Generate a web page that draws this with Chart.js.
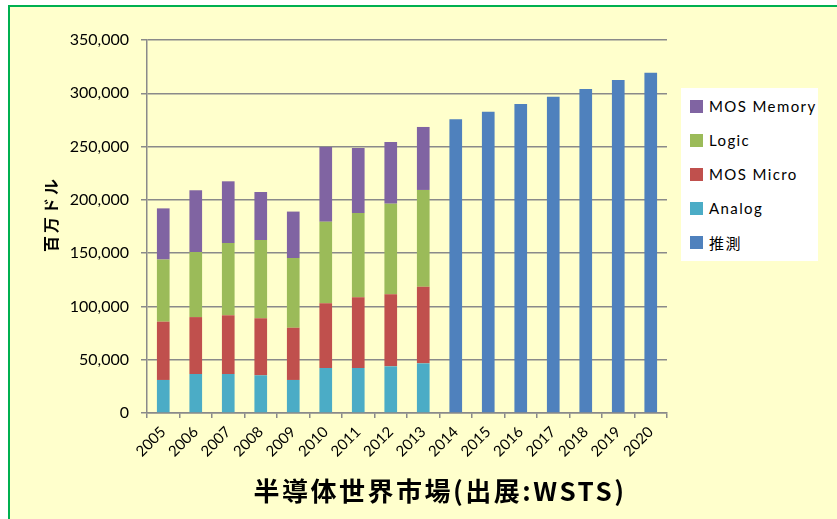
<!DOCTYPE html>
<html>
<head>
<meta charset="utf-8">
<script src="https://cdn.jsdelivr.net/npm/chart.js@4/dist/chart.umd.min.js"></script>
<style>
  body { margin: 0; background: #fff; width: 837px; height: 519px; overflow: hidden; position: relative; font-family: Lato, "Noto Sans CJK JP", sans-serif; }
  #marco { position: absolute; left: 8px; top: 5px; width: 829px; height: 514px; border-left: 2px solid #00b050; border-top: 2px solid #00b050; background: #ffffcc; }
  #grafico { position: absolute; left: 0; top: 0; }
  #leyenda { position: absolute; left: 681px; top: 88px; width: 137px; height: 173px; background: #fff; }
  .item { position: absolute; left: 9px; height: 20px; display: flex; align-items: center; font-size: 15px; letter-spacing: 1.4px; color: #000; }
  .item span.caja { width: 13px; height: 13px; margin-right: 6px; display: inline-block; }
  #tituloY { position: absolute; left: 50px; top: 214px; transform: translate(-50%, -50%) rotate(-90deg); font: bold 16px "Noto Sans CJK JP"; letter-spacing: 3px; white-space: nowrap; }
  #tituloX { position: absolute; left: 440px; top: 489px; transform: translate(-50%, -50%); font: bold 26px "Noto Sans CJK JP"; letter-spacing: 2.5px; white-space: nowrap; }
</style>
</head>
<body>
<div id="marco"></div>
<canvas id="grafico" width="837" height="519"></canvas>
<div id="leyenda"></div>
<div id="tituloY">百万ドル</div>
<div id="tituloX">半導体世界市場(出展:WSTS)</div>
<script>
// ===== Datos (百万ドル) =====
const anios = ['2005','2006','2007','2008','2009','2010','2011','2012','2013','2014','2015','2016','2017','2018','2019','2020'];
const analog    = [31000, 36600, 36600, 35400, 31000, 42200, 42200, 43800, 46600, null, null, null, null, null, null, null];
const mosMicro  = [54700, 53400, 55100, 53500, 49000, 60800, 66400, 67600, 71900, null, null, null, null, null, null, null];
const logic     = [58300, 61000, 67800, 73400, 65400, 76500, 79100, 85000, 90800, null, null, null, null, null, null, null];
const mosMemory = [48000, 58000, 57900, 45100, 43600, 70100, 61000, 57900, 59100, null, null, null, null, null, null, null];
const suisoku   = [null, null, null, null, null, null, null, null, null, 275600, 282700, 290000, 296800, 304000, 312500, 319300];
const ticksY = [0, 50000, 100000, 150000, 200000, 250000, 300000, 350000];

const gris = '#8a8a8a';

// orden de la leyenda: de arriba abajo
const series = [
  { label: 'MOS Memory', data: mosMemory, color: '#8064a2' },
  { label: 'Logic',      data: logic,     color: '#9bbb59' },
  { label: 'MOS Micro',  data: mosMicro,  color: '#c0504d' },
  { label: 'Analog',     data: analog,    color: '#4bacc6' },
  { label: '推測',       data: suisoku,   color: '#4f81bd' }
];

// apilado desde abajo: Analog, MOS Micro, Logic, MOS Memory, 推測
const datasets = [3, 2, 1, 0, 4].map(i => ({
  label: series[i].label,
  data: series[i].data,
  backgroundColor: series[i].color,
  borderWidth: 0,
  categoryPercentage: 1,
  barPercentage: 0.39
}));

new Chart(document.getElementById('grafico'), {
  type: 'bar',
  data: { labels: anios, datasets },
  options: {
    responsive: false,
    animation: false,
    layout: { padding: { left: 70, top: 40, right: 170, bottom: 56 } },
    plugins: { legend: { display: false }, tooltip: { enabled: false } },
    scales: {
      x: {
        stacked: true,
        afterFit: s => { s.height = 50; },
        grid: { drawOnChartArea: false, drawTicks: true, tickLength: 5, color: gris, lineWidth: 1.5 },
        border: { color: gris, width: 1.5 },
        ticks: { color: '#000', font: { family: 'Lato', size: 15 }, minRotation: 45, maxRotation: 45, padding: 5, autoSkip: false }
      },
      y: {
        stacked: true,
        min: 0, max: 350000,
        afterFit: s => { s.width = 77; },
        afterBuildTicks: s => { s.ticks = ticksY.map(v => ({ value: v })); },
        grid: { color: gris, lineWidth: 1.5, tickLength: 6 },
        border: { color: gris, width: 1.5 },
        ticks: { color: '#000', font: { family: 'Lato', size: 16 }, padding: 12, callback: v => Number(v).toLocaleString('en-US') }
      }
    }
  }
});

// leyenda
const leyenda = document.getElementById('leyenda');
series.forEach((s, i) => {
  const div = document.createElement('div');
  div.className = 'item';
  div.style.top = (8 + i * 34) + 'px';
  div.innerHTML = `<span class="caja" style="background:${s.color}"></span>${s.label}`;
  leyenda.appendChild(div);
});
</script>
</body>
</html>
